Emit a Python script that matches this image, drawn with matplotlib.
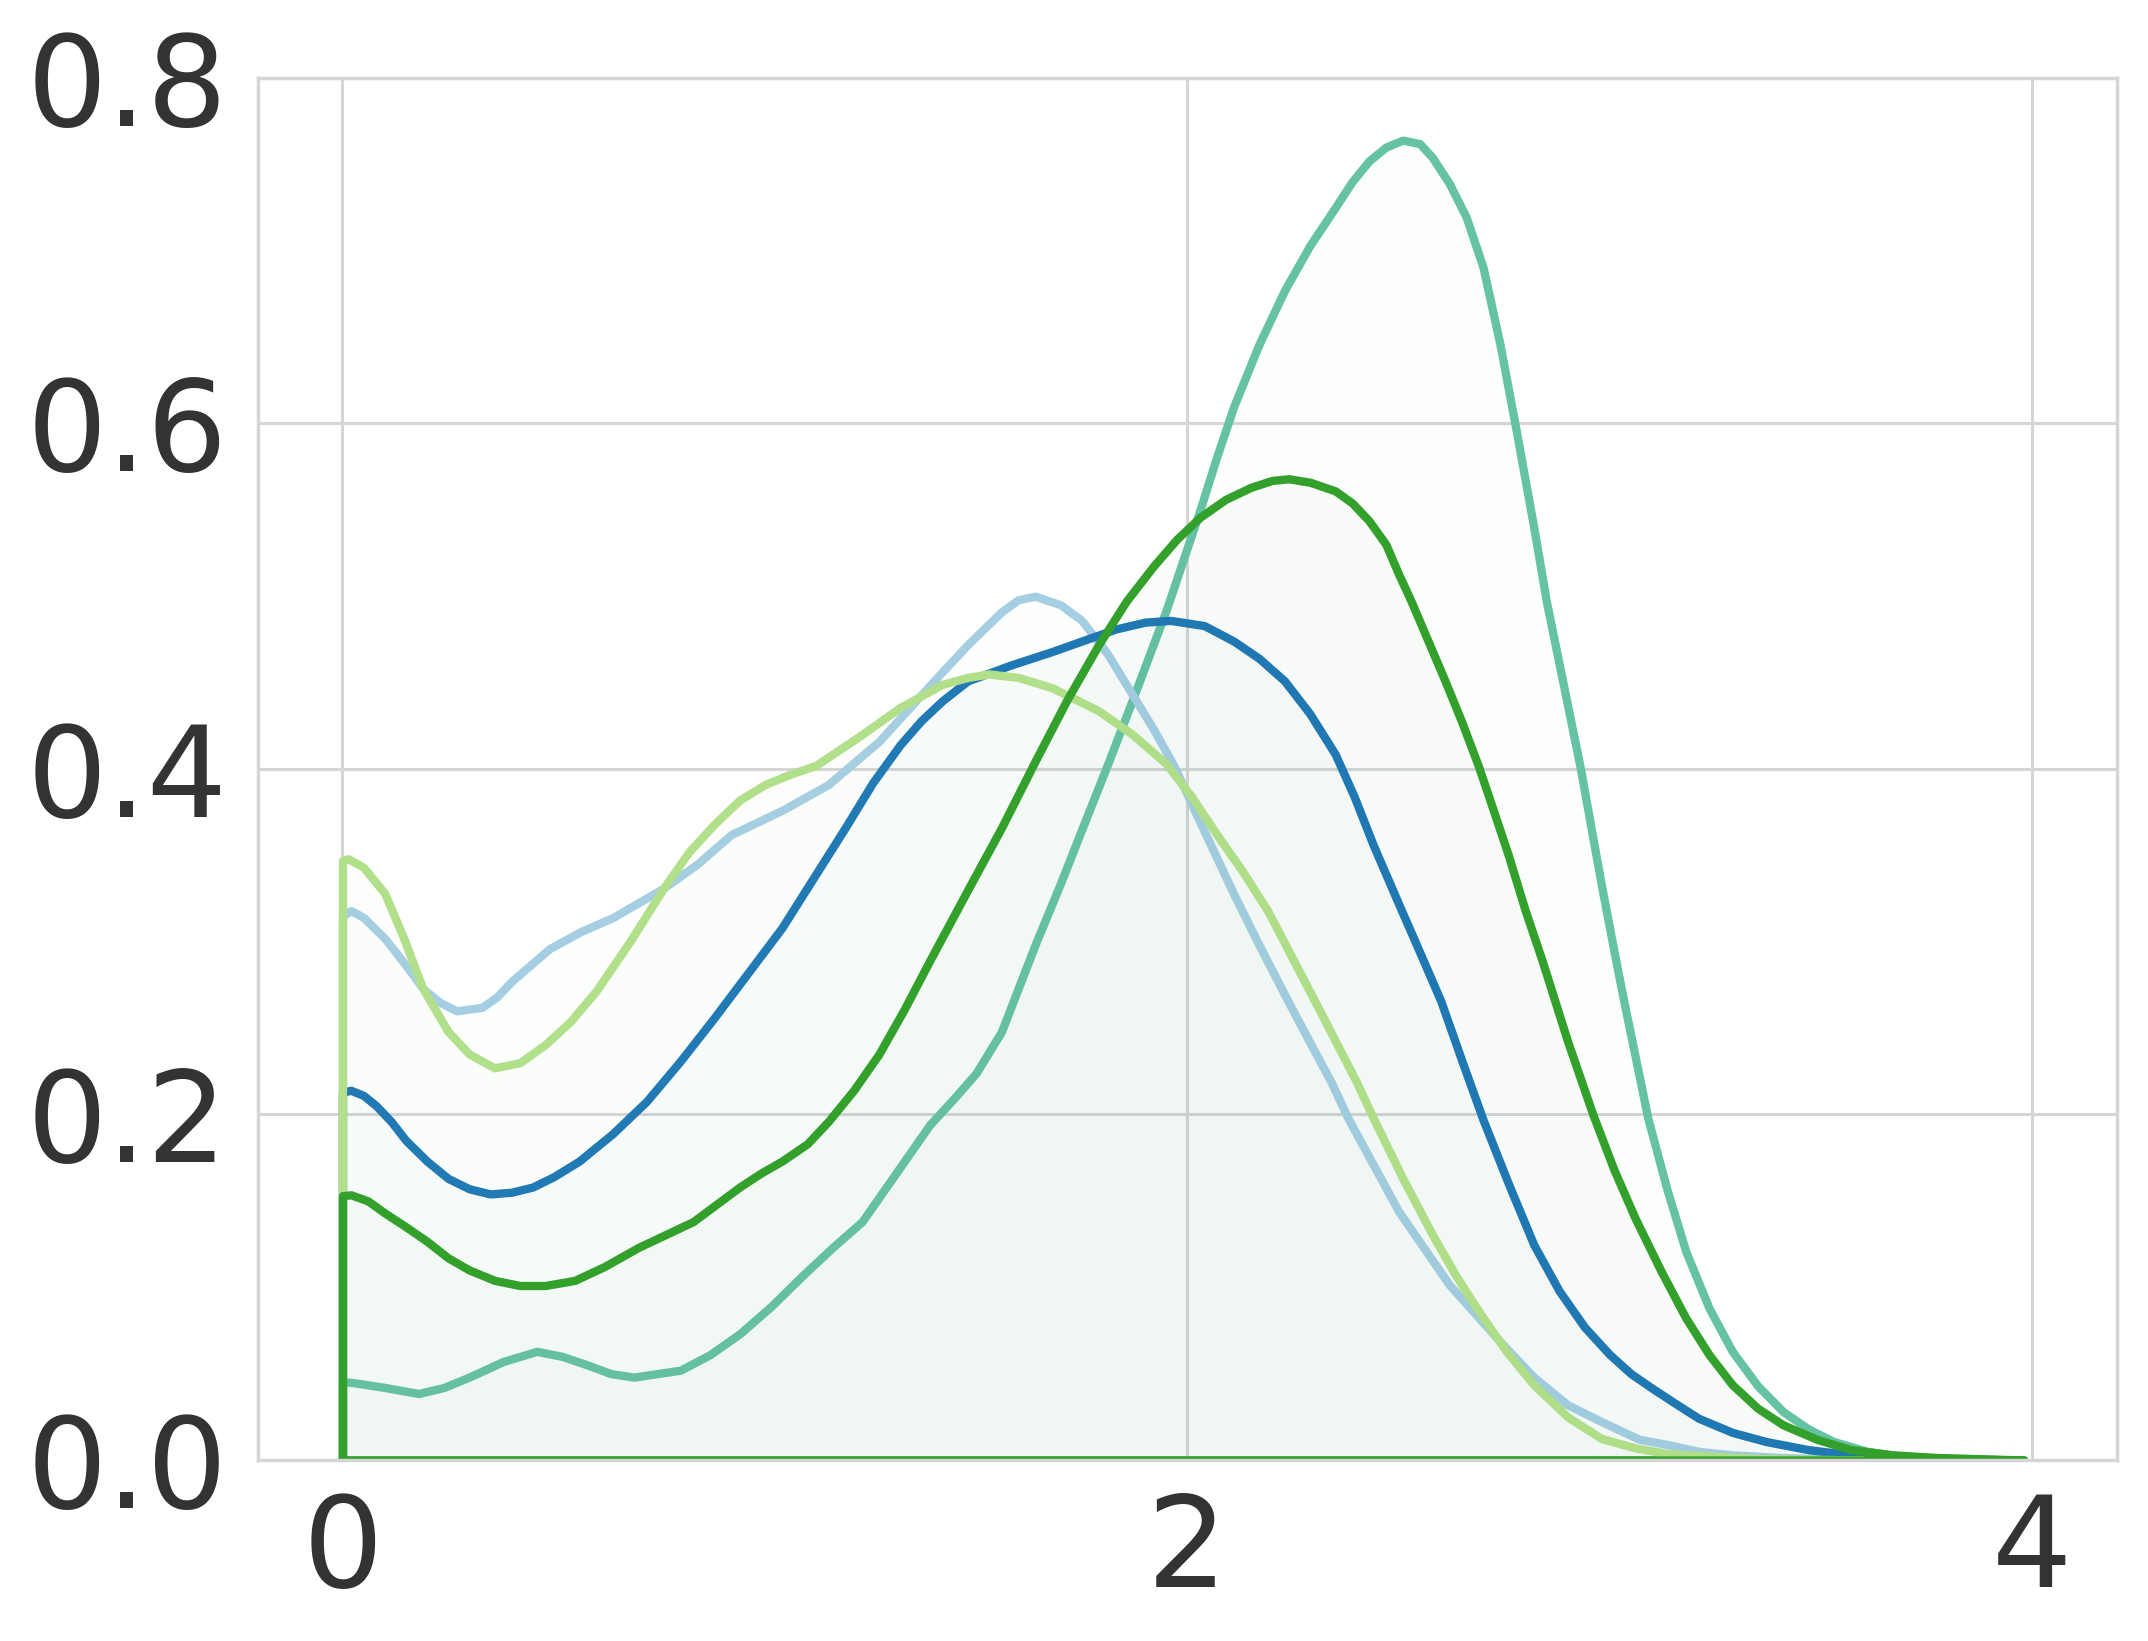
import matplotlib
matplotlib.use("Agg")
import matplotlib.pyplot as plt
from matplotlib.colors import to_rgba

# density curves (x, density)
teal_x = [0.0, 0.02, 0.10, 0.18, 0.24, 0.30, 0.38, 0.46, 0.52, 0.58, 0.635, 0.69, 0.80, 0.87, 0.94, 1.015,
          1.09, 1.16, 1.23, 1.31, 1.39, 1.45, 1.50, 1.56, 1.64, 1.70, 1.75, 1.81, 1.87, 1.95, 2.03,
          2.07, 2.11, 2.17, 2.23, 2.29, 2.35, 2.39, 2.43, 2.47, 2.51, 2.55, 2.58, 2.62, 2.66, 2.70, 2.74,
          2.78, 2.82, 2.85, 2.89, 2.93, 2.98, 3.01, 3.03, 3.09, 3.135, 3.18, 3.235, 3.29, 3.35, 3.41, 3.47,
          3.53, 3.61, 3.69, 3.80, 3.98]
teal_y = [0.045, 0.045, 0.042, 0.0385, 0.042, 0.048, 0.057, 0.0629, 0.060, 0.055, 0.050, 0.048, 0.052,
          0.061, 0.073, 0.089, 0.107, 0.123, 0.138, 0.166, 0.194, 0.210, 0.224, 0.248, 0.2985, 0.334,
          0.365, 0.402, 0.440, 0.492, 0.550, 0.581, 0.610, 0.646, 0.677, 0.703, 0.725, 0.740, 0.752, 0.760,
          0.764, 0.762, 0.754, 0.739, 0.7195, 0.6905, 0.646, 0.594, 0.540, 0.497, 0.449, 0.401, 0.333,
          0.2946, 0.2695, 0.198, 0.157, 0.1208, 0.088, 0.0629, 0.043, 0.0281, 0.018, 0.0107, 0.005, 0.002,
          0.0007, 0.0]

lblue_x = [0.0, 0.02, 0.05, 0.10, 0.145, 0.19, 0.23, 0.27, 0.33, 0.365, 0.40, 0.49, 0.565, 0.64, 0.76, 0.84,
           0.92, 1.04, 1.15, 1.27, 1.35, 1.415, 1.48, 1.56, 1.60, 1.64, 1.70, 1.75, 1.81, 1.87, 1.92, 1.97,
           2.04, 2.11, 2.17, 2.23, 2.285, 2.34, 2.38, 2.50, 2.62, 2.74, 2.82, 2.90, 2.98, 3.03, 3.07, 3.14,
           3.21, 3.29, 3.40, 3.50, 3.70]
lblue_y = [0.315, 0.318, 0.314, 0.302, 0.288, 0.273, 0.265, 0.260, 0.262, 0.268, 0.277, 0.296, 0.306,
           0.314, 0.331, 0.345, 0.362, 0.376, 0.391, 0.416, 0.4375, 0.455, 0.472, 0.491, 0.498, 0.500, 0.495,
           0.486, 0.467, 0.443, 0.423, 0.401, 0.364, 0.3275, 0.298, 0.2695, 0.244, 0.219, 0.198, 0.144,
           0.1015, 0.0687, 0.048, 0.032, 0.0223, 0.0165, 0.012, 0.0088, 0.005, 0.003, 0.0015, 0.0008, 0.0]

dblue_x = [0.0, 0.02, 0.05, 0.08, 0.115, 0.15, 0.20, 0.25, 0.30, 0.35, 0.40, 0.45, 0.50, 0.56, 0.64, 0.72,
           0.80, 0.88, 0.96, 1.04, 1.115, 1.19, 1.255, 1.32, 1.37, 1.42, 1.48, 1.58, 1.68, 1.83, 1.90, 1.96,
           2.04, 2.11, 2.17, 2.23, 2.29, 2.35, 2.395, 2.44, 2.50, 2.55, 2.60, 2.65, 2.70, 2.76, 2.82, 2.88,
           2.94, 3.00, 3.05, 3.10, 3.16, 3.21, 3.29, 3.37, 3.47, 3.57, 3.75, 3.98]
dblue_y = [0.213, 0.214, 0.211, 0.205, 0.196, 0.185, 0.173, 0.163, 0.157, 0.154, 0.155, 0.158, 0.164,
           0.173, 0.189, 0.2077, 0.231, 0.256, 0.282, 0.308, 0.337, 0.366, 0.392, 0.414, 0.428, 0.4395, 0.451,
           0.460, 0.468, 0.481, 0.485, 0.486, 0.483, 0.474, 0.464, 0.451, 0.432, 0.4086, 0.384, 0.356, 0.322,
           0.294, 0.2657, 0.231, 0.197, 0.160, 0.1247, 0.098, 0.077, 0.061, 0.050, 0.0416, 0.032, 0.0242,
           0.016, 0.0107, 0.006, 0.003, 0.0008, 0.0]

lgreen_x = [0.0, 0.014, 0.05, 0.10, 0.145, 0.19, 0.25, 0.30, 0.36, 0.42, 0.48, 0.54, 0.60, 0.68, 0.76, 0.82,
            0.88, 0.94, 1.00, 1.06, 1.12, 1.23, 1.32, 1.42, 1.48, 1.53, 1.60, 1.68, 1.79, 1.87, 1.95, 2.01,
            2.07, 2.13, 2.19, 2.24, 2.32, 2.40, 2.44, 2.51, 2.58, 2.635, 2.69, 2.755, 2.82, 2.90, 2.98, 3.06,
            3.14, 3.35, 3.60]
lgreen_y = [0.347, 0.348, 0.343, 0.328, 0.302, 0.273, 0.248, 0.235, 0.227, 0.230, 0.2405, 0.254, 0.2714,
            0.300, 0.331, 0.352, 0.368, 0.382, 0.391, 0.397, 0.402, 0.420, 0.4356, 0.449, 0.453, 0.455, 0.453,
            0.447, 0.4337, 0.420, 0.403, 0.384, 0.362, 0.341, 0.318, 0.2946, 0.257, 0.219, 0.198, 0.163,
            0.1305, 0.107, 0.086, 0.063, 0.0436, 0.025, 0.0125, 0.007, 0.0036, 0.0008, 0.0]

dgreen_x = [0.0, 0.02, 0.06, 0.10, 0.15, 0.20, 0.25, 0.30, 0.36, 0.42, 0.48, 0.55, 0.62, 0.70, 0.83, 0.94,
            0.99, 1.04, 1.10, 1.15, 1.21, 1.27, 1.33, 1.39, 1.48, 1.56, 1.64, 1.715, 1.79, 1.855, 1.92, 1.975,
            2.03, 2.09, 2.15, 2.20, 2.24, 2.29, 2.35, 2.39, 2.43, 2.47, 2.50, 2.53, 2.57, 2.61, 2.65, 2.69,
            2.73, 2.76, 2.80, 2.84, 2.90, 2.96, 3.01, 3.06, 3.12, 3.18, 3.235, 3.29, 3.35, 3.41, 3.49, 3.57,
            3.67, 3.77, 3.98]
dgreen_y = [0.153, 0.1535, 0.150, 0.143, 0.135, 0.1266, 0.117, 0.110, 0.104, 0.101, 0.101, 0.104, 0.112,
            0.123, 0.138, 0.158, 0.166, 0.173, 0.183, 0.196, 0.214, 0.235, 0.261, 0.289, 0.330, 0.366, 0.4047,
            0.440, 0.472, 0.497, 0.5175, 0.533, 0.5457, 0.556, 0.563, 0.567, 0.568, 0.566, 0.561, 0.554,
            0.5437, 0.530, 0.5129, 0.497, 0.474, 0.451, 0.427, 0.401, 0.372, 0.350, 0.318, 0.289, 0.2425,
            0.200, 0.168, 0.140, 0.110, 0.0822, 0.061, 0.0436, 0.030, 0.0204, 0.012, 0.006, 0.003, 0.0015,
            0.0]

series = [
    (teal_x, teal_y, "#66c2a5"),
    (lblue_x, lblue_y, "#a6cee3"),
    (dblue_x, dblue_y, "#1f78b4"),
    (lgreen_x, lgreen_y, "#b2df8a"),
    (dgreen_x, dgreen_y, "#33a02c"),
]

x_ticks = [0, 2, 4]
y_ticks = [0.0, 0.2, 0.4, 0.6, 0.8]

grid_col = "#d5d5d5"
text_col = "#333333"

fig = plt.figure(figsize=(21.48, 16.41), dpi=100)
ax = fig.add_axes([0.1201, 0.1103, 0.8653, 0.8422])
ax.set_axisbelow(True)
ax.grid(True, color=grid_col, linewidth=2.2)

for xs, ys, col in series:
    poly = ax.fill_between(xs, ys, facecolor=to_rgba(col, 0.02), edgecolor=col, linewidth=6.0)
    poly.set_joinstyle("round")

ax.set_xlim(-0.2, 4.2)
ax.set_ylim(0, 0.8)
ax.set_xticks(x_ticks)
ax.set_xticklabels([str(t) for t in x_ticks])
ax.set_yticks(y_ticks)
ax.set_yticklabels(["%.1f" % t for t in y_ticks])
ax.tick_params(length=0, pad=22, labelsize=91, labelcolor=text_col)
for sp in ax.spines.values():
    sp.set_color(grid_col)
    sp.set_linewidth(2.5)

fig.savefig("out.png", dpi=100)
